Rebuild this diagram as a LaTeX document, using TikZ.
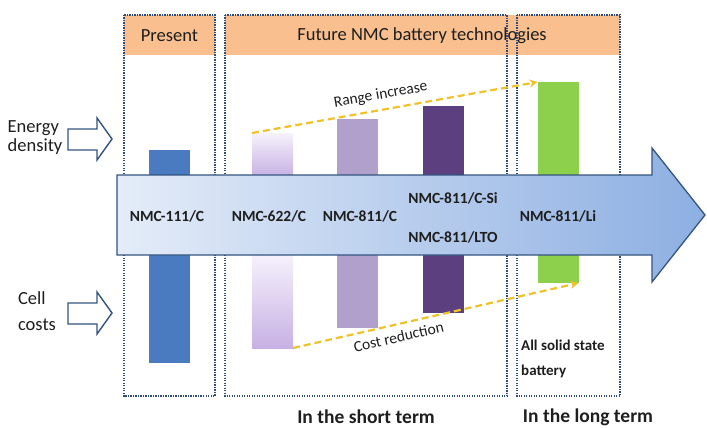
\documentclass[tikz,border=0pt]{standalone}
\usepackage{fontspec}
\setmainfont{Carlito}
\usetikzlibrary{arrows.meta}
\definecolor{hdr}{HTML}{F9BF8F}
\definecolor{dotc}{HTML}{2F4B7A}
\definecolor{arrowedge}{HTML}{34557F}
\definecolor{bluebar}{HTML}{4A7BC0}
\definecolor{midpurple}{HTML}{B19FCC}
\definecolor{darkpurple}{HTML}{5B3F7E}
\definecolor{greenbar}{HTML}{8DD04B}
\definecolor{yel}{HTML}{EFC22A}
\definecolor{txt}{HTML}{1E1E1E}
\definecolor{arrL}{HTML}{E4ECF8}
\definecolor{arrR}{HTML}{8DAFE2}
\definecolor{lavT}{HTML}{F6F2FB}
\definecolor{lavB}{HTML}{C7B1E4}
\tikzset{
  dotbox/.style={draw=dotc, line width=1.2pt, dash pattern=on 1.2pt off 1.3pt},
  header/.style={fill=hdr, draw=none},
  bar/.style={draw=none, minimum width=41pt, inner sep=0pt, outer sep=0pt},
  lab/.style={font=\bfseries\fontsize{15.5}{18}\selectfont, text=txt, inner sep=0pt},
  htext/.style={font=\fontsize{18.5}{22}\selectfont, text=txt, inner sep=0pt},
  side/.style={font=\fontsize{18.5}{22}\selectfont, text=txt, align=left, inner sep=0pt},
  blockarrow/.style={draw=arrowedge, line width=1.4pt, fill=white, line join=miter},
  trend/.style={draw=yel, line width=2.2pt, dash pattern=on 7pt off 4pt, -{Stealth[length=8pt,width=8pt]}},
}
\begin{document}
\begin{tikzpicture}[x=1pt,y=-1pt]
\useasboundingbox (0,0) rectangle (707,428);
% headers
\fill[header] (124,15) rectangle (215,55);
\fill[header] (225,15) rectangle (620,55);
\node[htext] (hpresent) at (169.5,36) {Present};
\node[htext] (hfuture) at (422,36) {Future NMC battery technologies};
% dotted boxes
\draw[dotbox] (124,15) rectangle (215,396);
\draw[dotbox] (225,15) rectangle (507,396);
\draw[dotbox] (517,15) rectangle (620,396);
% bars
\node[bar, fill=bluebar, minimum height=213pt] (b111) at (169.5,256.5) {};
\node[bar, minimum height=215pt] (b622) at (272.5,240.5) {};
\shade[top color=lavT, bottom color=lavB] (b622.north west) rectangle (293,176);
\shade[top color=lavT, bottom color=lavB] (252,254) rectangle (b622.south east);
\node[bar, fill=midpurple, minimum height=209pt] (b811) at (357,223.5) {};
\node[bar, fill=darkpurple, minimum height=207pt] (bsi) at (443,209.5) {};
\node[bar, fill=greenbar, minimum height=201pt] (bli) at (558,182.5) {};
% main arrow
\shade[left color=arrL, right color=arrR, draw=arrowedge, line width=1.3pt]
  (117,175) -- (652,175) -- (652,148) -- (705,215) -- (652,282) -- (652,255) -- (117,255) -- cycle;
% labels on arrow
\node[lab] (l111) at (167,216) {NMC-111/C};
\node[lab] (l622) at (269,216) {NMC-622/C};
\node[lab] (l811) at (360,216) {NMC-811/C};
\node[lab] (lsi) at (453,198) {NMC-811/C-Si};
\node[lab] (llto) at (453,237) {NMC-811/LTO};
\node[lab] (lli) at (558,216) {NMC-811/Li};
% side arrows and texts
\node[side] (energy) at (35,138) {Energy\\[-3pt]density};
\draw[blockarrow] (68,129) -- (97,129) -- (97,118) -- (112,139) -- (97,160) -- (97,150) -- (68,150) -- cycle;
\node[side] (cost) at (37,311) {Cell\\[4pt]costs};
\draw[blockarrow] (68,303) -- (97,303) -- (97,292) -- (112,313) -- (97,334) -- (97,324) -- (68,324) -- cycle;
% trends
\draw[trend] (b622.north west) -- (bli.north west)
  node[pos=0.46, sloped, above=7pt, htext, font=\fontsize{15.5}{18}\selectfont] (range) {Range increase};
\draw[trend] (b622.south east) -- (bli.south east)
  node[pos=0.36, sloped, below=6pt, htext, font=\fontsize{15.5}{18}\selectfont] (costred) {Cost reduction};
% bottom texts
\node[lab, font=\bfseries\fontsize{15}{25}\selectfont, align=left, anchor=west] (solid) at (521,359) {All solid state\\battery};
\node[htext, font=\bfseries\fontsize{19.5}{22}\selectfont] (short) at (366,417) {In the short term};
\node[htext, font=\bfseries\fontsize{19.5}{22}\selectfont] (long) at (588,417) {In the long term};
\end{tikzpicture}
\end{document}
